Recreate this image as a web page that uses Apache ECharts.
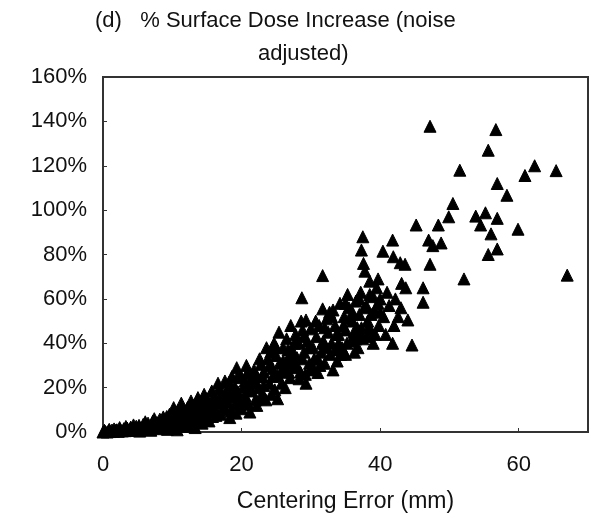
<!DOCTYPE html>
<html>
<head>
<meta charset="utf-8">
<script src="https://cdn.jsdelivr.net/npm/echarts@6/dist/echarts.min.js"></script>
<style>
	html, body { margin: 0; padding: 0; background: #fff; }
	#chart { width: 595px; height: 520px; }
</style>
</head>
<body>
<div id="chart"></div>
<script>
// centering error (mm), surface dose increase (%)
var pts0to10 = [
	[0,0],[0.3,0.3],[0.6,0],[0.8,0.6],[1,0.2],[1.3,0.9],[1.5,0.3],[1.8,0.7],[2,1],[2.2,0.3],
	[2.5,1.2],[2.8,0.5],[3,1.5],[3.2,0.6],[3.5,1.8],[3.8,0.9],[4,2.2],[4.2,0.7],[4.5,1.6],[4.8,2.6],
	[5,1.1],[5.2,3],[5.5,1.8],[5.8,3.4],[6,1.3],[6.3,2.6],[6.5,4],[6.8,2],[7,3.2],[7.2,5],
	[7.5,2.3],[7.8,4.2],[8,1.5],[8.2,5.8],[8.5,4.2],[8.8,2.6],[9,5.5],[9.2,7],[9.5,3.6],[9.8,6.2],
	[10,1.8],[10,8.5],[0.2,0.8],[0.9,1.2],[1.6,1.4],[2.4,2],[3.3,2.5],[4.4,3.2],[5.3,0.4],[6.1,4.6],
	[6.9,0.8],[7.4,6],[8.3,3.3],[8.7,6.8],[9.3,1.2],[9.6,8]
];
var pts10to20 = [
	[10.3,4.5],[10.5,6.8],[10.8,9.5],[11,3.5],[11.2,7.8],[11.5,10.5],[11.8,2.5],[12,5.5],[12.2,11],[12.5,8.5],
	[12.8,4],[13,12],[13.2,7],[13.5,10],[13.8,5.5],[14,13],[14.2,8.5],[14.5,11.5],[14.8,6.5],[15,15],
	[15.2,9.5],[15.5,12.5],[15.8,7],[16,16],[16.2,10.5],[16.5,13.5],[16.8,19.5],[17,8],[17.2,15],[17.5,11.5],
	[17.8,18],[18,13.5],[18.2,22.5],[18.5,9.5],[18.8,16.5],[19,20.5],[19,12.5],[19.3,29],[19.5,18],[19.8,14.5],
	[20,24.5],[20,10.5],[10.2,11],[10.7,1],[11.3,13],[11.6,6],[12.3,3],[12.7,14],[13.3,2],[13.7,15.5],
	[14.3,4],[14.6,17],[15.3,5],[15.7,18.5],[16.3,7.5],[16.6,22],[17.3,10],[17.6,23],[18.3,6.5],[18.6,25],
	[19.2,8.5],[19.6,26],[16,13],[17,17],[18,19.5],[19,16],[14,10],[15,12],[13,8.5],[12,7]
];
var pts20to30 = [
	[20.3,20.5],[20.5,16.5],[20.8,26.5],[21,12.5],[21.2,22.5],[21.5,18.5],[21.8,28],[22,14.5],[22.2,25],[22.5,20],
	[22.8,30.5],[23,17.5],[23.2,27],[23.5,14.5],[23.8,33],[24,22],[24.2,36],[24.5,28.5],[24.8,19],[25,34.5],
	[25.2,25.5],[25.4,45],[25.5,31],[25.8,22],[26,38],[26.2,28],[26.5,42],[26.8,33],[27,24.5],[27.1,48],
	[27.3,37],[27.5,29],[27.8,44],[28,33.5],[28.2,40],[28.5,27],[28.7,60.5],[28.8,46],[29,36],[29.3,50.5],
	[29.3,22],[29.5,41],[29.8,31],[30,46.5],[30,28],[20.2,14],[20.7,30],[21.2,9],[21.7,24],[22.2,12],
	[22.6,33],[23.2,21],[23.6,38],[24.3,17],[24.7,40],[25.2,15],[25.7,27],[26.3,20],[26.7,37],[27.2,31],
	[27.6,40],[28.3,24],[28.6,50],[29.2,26],[29.7,38],[21,20],[22,22],[23,25],[24,30],[25,38],
	[26,32],[27,35],[28,30],[29,43],[20.5,23],[22.8,15],[24.5,25],[26.8,27],[28.8,33]
];
var pts30to40 = [
	[30.3,38],[30.5,33],[30.8,43],[31,26.8],[31.2,48],[31.5,36],[31.7,55.5],[31.7,70.5],[31.8,41],[32,31],
	[32.3,51],[32.5,45],[32.8,35],[33,40],[33.2,55],[33.5,48],[33.8,32],[34,44],[34.2,58],[34.5,38],
	[34.8,52],[35,46],[35,35],[35.3,62],[35.5,56],[35.8,41],[36,50],[36.2,45],[36.5,59],[36.8,38],
	[37,53],[37.2,63],[37.3,47],[37.5,88],[37.3,82],[37.6,76],[37.8,72.5],[37.5,42],[38,57],[38.2,50],
	[38.5,68],[38.5,62],[38.8,45],[39,40],[39.2,55],[39.5,65],[39.7,69],[39.8,48],[40,60],[30.2,30],
	[30.7,50],[31.3,30],[31.7,40],[32.2,38],[32.7,54],[33.2,28],[33.7,44],[34.3,35],[34.7,48],[35.2,40],
	[35.7,51],[36.3,36],[36.7,47],[37.2,44],[37.7,56],[38.3,47],[38.7,53],[39.3,44],[39.7,58],[31,33],
	[32,47],[33,52],[34,40],[35,58],[36,54],[37,60],[38,43],[39,61],[40,54],[36.5,42],[33.5,37]
];
var pts40to50 = [
	[40.4,81.5],[40.5,52],[40.8,44],[41,63],[41.3,57],[41.8,86.5],[41.8,40],[41.9,79],[42,48],[42.2,60],
	[42.6,52],[42.9,76.3],[43,56],[43.1,67],[43.6,75.6],[43.7,65],[44,50.5],[44.6,39.2],[45.2,93.3],[46.2,65],
	[46.2,58.5],[47,86.5],[47.2,137.8],[47.2,75.6],[47.6,84],[48.4,93.3],[48.8,85.2],[49.9,97]
];
var pts50up = [
	[50.5,103],[51.5,118],[52.1,69],[53.8,97.3],[54.5,93.3],[55.2,98.8],[55.6,127],[55.6,80],[56,89.3],[56.7,136.3],
	[56.9,112],[56.9,96.3],[56.9,82.5],[58.3,106.7],[59.9,91.4],[60.9,115.6],[62.3,120],[65.4,117.8],[67,70.7]
];
var xTicks = [0, 20, 40, 60];

var allPts = pts0to10.concat(pts10to20, pts20to30, pts30to40, pts40to50, pts50up);

var myChart = echarts.init(document.getElementById('chart'), null, {renderer: 'canvas'});
var txt = '#111';
var font = 'Liberation Sans, Arial, sans-serif';

myChart.setOption({
	animation: false,
	backgroundColor: '#fff',
	graphic: [
		{type: 'text', left: 95, top: 10, style: {text: '(d)   % Surface Dose Increase (noise', fill: txt, font: '22px ' + font}},
		{type: 'text', left: 258, top: 43, style: {text: 'adjusted)', fill: txt, font: '22px ' + font}}
	],
	grid: {left: 103, right: 7, top: 77, bottom: 88, show: true, borderColor: '#333', borderWidth: 2},
	xAxis: {
		type: 'value', min: 0, max: 70, interval: 20,
		name: 'Centering Error (mm)', nameLocation: 'middle', nameGap: 58,
		nameTextStyle: {color: txt, fontSize: 23, fontFamily: font},
		axisLine: {show: true, onZero: false, lineStyle: {color: '#333', width: 2}},
		axisTick: {show: true, inside: true, length: 4, lineStyle: {color: '#333'}},
		splitLine: {show: false},
		axisLabel: {
			color: txt, fontSize: 22, fontFamily: font, margin: 22,
			formatter: function(v) { return xTicks.indexOf(v) >= 0 ? String(v) : ''; }
		}
	},
	yAxis: {
		type: 'value', min: 0, max: 160, interval: 20,
		axisLine: {show: true, lineStyle: {color: '#333', width: 2}},
		axisTick: {show: true, inside: true, length: 4, lineStyle: {color: '#333'}},
		splitLine: {show: false},
		axisLabel: {color: txt, fontSize: 22, fontFamily: font, margin: 16, formatter: '{value}%'}
	},
	series: [{
		type: 'scatter',
		data: allPts,
		symbol: 'triangle',
		symbolSize: 12,
		itemStyle: {color: '#000', borderColor: '#000', borderWidth: 1, opacity: 1}
	}]
});
</script>
</body>
</html>
